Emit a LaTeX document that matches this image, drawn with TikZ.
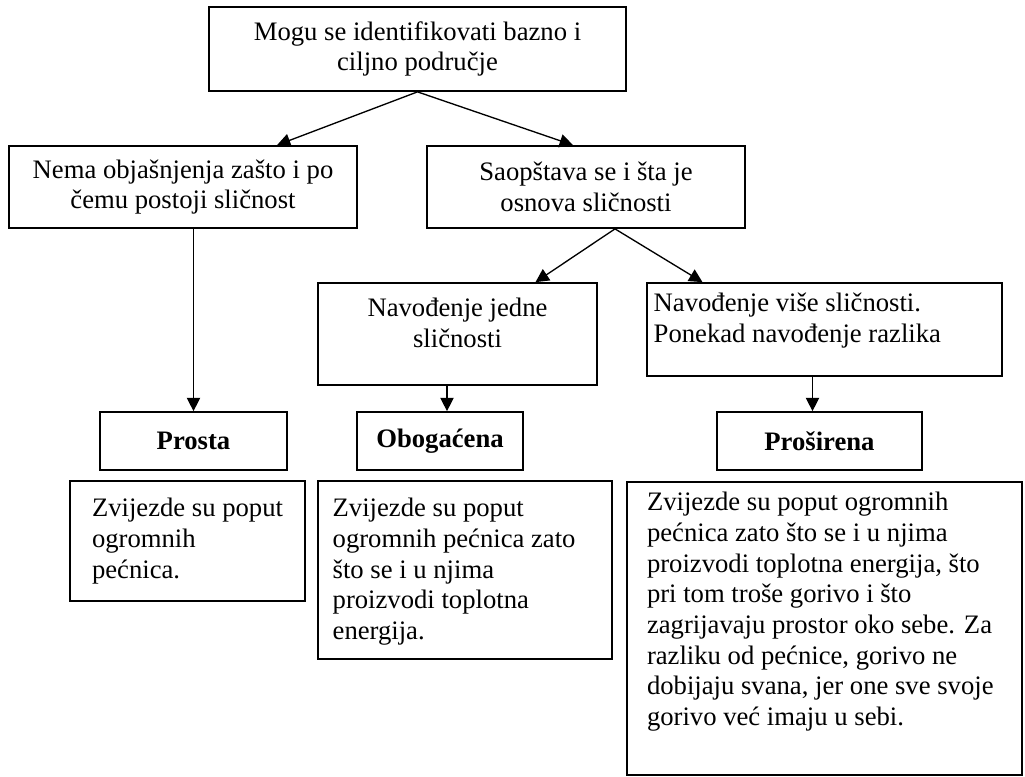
\documentclass[tikz,border=0pt]{standalone}
\usepackage{fontspec}
\setmainfont{Liberation Serif}
\usetikzlibrary{arrows.meta,calc,positioning}
\newcommand{\leftpar}[3]{\parbox[c][#2][t]{#1}{\raggedright\strut #3}}
\newcommand{\midpar}[3]{\parbox[c][#2][t]{#1}{\centering\strut #3}}

\begin{document}
\begin{tikzpicture}[x=0.75pt,y=-0.75pt,
  every node/.style={font=\fontsize{20}{23}\selectfont},
  idea/.style={draw,line width=1.3pt,align=center,inner sep=0pt},
  kind/.style={idea,font=\fontsize{20}{23}\selectfont\bfseries},
  note/.style={draw,line width=1.3pt},
  flow/.style={-{Triangle[width=10pt,length=10pt]},line width=1pt}]

    \useasboundingbox (0,0) rectangle (1025,776);

    \node[idea,minimum width=312.75pt,minimum height=63pt] (idn) at (417.5,49) {Mogu se identifikovati bazno i\\ciljno područje};
    \node[idea,minimum width=261pt,minimum height=61.5pt] (nema) at (183,187) {Nema objašnjenja zašto i po\\čemu postoji sličnost};
    \node[idea,minimum width=238.5pt,minimum height=61.5pt] (saop) at (586,187) {Saopštava se i šta je\\osnova sličnosti};

    \node[note,inner xsep=5pt,inner ysep=9.25pt] (jedne) at (457.5,334) {\midpar{199.25pt}{58pt}{Navođenje jedne\\sličnosti}};
    \node[note,inner xsep=5pt,inner ysep=5.5pt] (vise) at (824.5,329.5) {\leftpar{256.25pt}{58.75pt}{Navođenje više sličnosti.\\Ponekad navođenje razlika}};

    \node[kind,minimum width=140.25pt,minimum height=43.5pt] (prosta) at (193.5,441) {Prosta};
    \node[kind,minimum width=124.5pt,minimum height=43.5pt] (obog) at (440,441) {Obogaćena};
    \node[kind,minimum width=153.75pt,minimum height=43.5pt] (pros) at (819.5,441) {Proširena};

    \node[note,inner xsep=16.5pt,inner ysep=10.75pt] (ex1) at (187.5,541) {\leftpar{143.25pt}{68.5pt}{Zvijezde su poput\\ogromnih\\pećnica.}};
    \node[note,inner xsep=11pt,inner ysep=10.75pt] (ex2) at (465,570) {\leftpar{198.5pt}{112pt}{Zvijezde su poput\\ogromnih pećnica zato\\što se i u njima\\proizvodi toplotna\\energija.}};
    \node[note,inner xsep=15pt,inner ysep=5.5pt] (ex3) at (824.5,628.5) {\leftpar{266.25pt}{208.75pt}{Zvijezde su poput ogromnih\\pećnica zato što se i u njima\\proizvodi toplotna energija, što\\pri tom troše gorivo i što\\zagrijavaju prostor oko sebe. Za\\razliku od pećnice, gorivo ne\\dobijaju svana, jer one sve svoje\\gorivo već imaju u sebi.}};

    \coordinate (fork) at ($(saop.south)+(29,0)$);
    \draw[flow] (idn.south) -- ($(nema.north)+(94,0)$);
    \draw[flow] (idn.south) -- ($(saop.north)+(-13,0)$);
    \draw[flow] (fork) -- ($(jedne.north)+(78,0)$);
    \draw[flow] (fork) -- ($(vise.north)+(-122,0)$);
    \draw[flow] (nema.south -| prosta.north) -- (prosta.north);
    \draw[flow] ($(jedne.south -| obog.north)+(7,0)$) -- ($(obog.north)+(7,0)$);
    \draw[flow] ($(vise.south -| pros.north)+(-7,0)$) -- ($(pros.north)+(-7,0)$);
\end{tikzpicture}
\end{document}
